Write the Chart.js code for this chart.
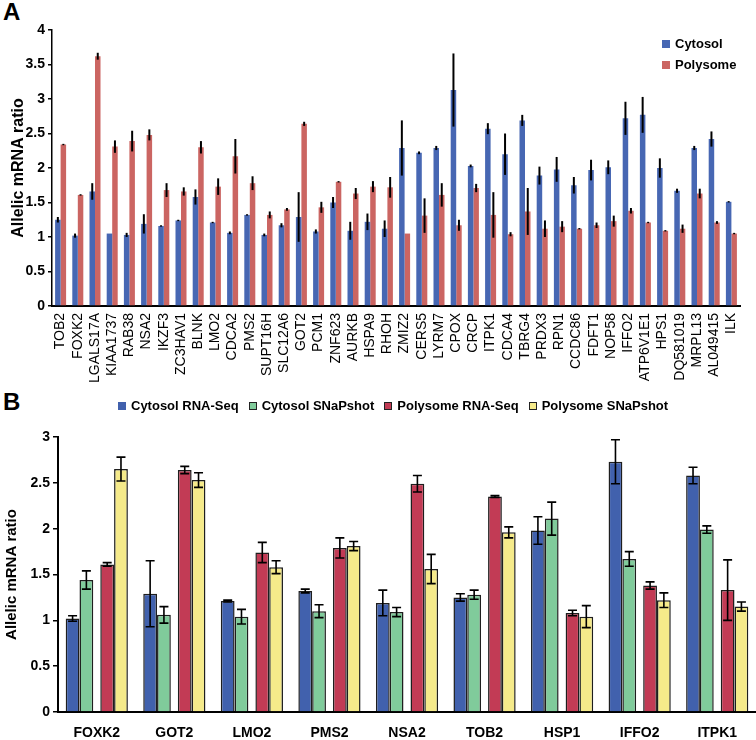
<!DOCTYPE html>
<html>
<head>
<meta charset="utf-8">
<script src="https://cdn.jsdelivr.net/npm/chart.js@4.4.1/dist/chart.umd.min.js"></script>
<style>
  html, body { margin: 0; padding: 0; background: #fff; }
  body { width: 756px; height: 740px; position: relative; overflow: hidden; font-family: "Liberation Sans", Arial, sans-serif; color: #000; }
  .letter { position: absolute; left: 3px; font-weight: bold; font-size: 24px; line-height: 1; }
  #wrapA { position: absolute; left: 0; top: 0; }
  #wrapB { position: absolute; left: 0; top: 385px; }
  .leg { position: absolute; font-weight: bold; font-size: 13px; line-height: 16px; display: flex; align-items: center; white-space: nowrap; }
  .leg i { display: inline-block; width: 8px; height: 8px; margin-right: 5px; box-sizing: border-box; }
  #legB { left: 118px; top: 398px; }
  #legB span { display: flex; align-items: center; margin-right: 10px; }
</style>
</head>
<body>
<div class="letter" style="top:0px">A</div>
<div class="letter" style="top:390px">B</div>
<div id="wrapA"><canvas id="chartA" width="756" height="390"></canvas></div>
<div id="wrapB"><canvas id="chartB" width="756" height="355"></canvas></div>
<div class="leg" style="left:662px; top:36px"><i style="background:#4767B3"></i>Cytosol</div>
<div class="leg" style="left:662px; top:57px"><i style="background:#CB6562"></i>Polysome</div>
<div class="leg" id="legB">
  <span><i style="background:#4161AD"></i>Cytosol RNA-Seq</span>
  <span><i style="background:#80CB9B; border:1px solid #222"></i>Cytosol SNaPshot</span>
  <span><i style="background:#C23B55; border:1px solid #222"></i>Polysome RNA-Seq</span>
  <span><i style="background:#F5EA8A; border:1px solid #222"></i>Polysome SNaPshot</span>
</div>
<script>
// panel A
const genesA = ["TOB2", "FOXK2", "LGALS17A", "KIAA1737", "RAB38", "NSA2", "IKZF3", "ZC3HAV1", "BLNK", "LMO2",
    "CDCA2", "PMS2", "SUPT16H", "SLC12A6", "GOT2", "PCM1", "ZNF623", "AURKB", "HSPA9", "RHOH",
    "ZMIZ2", "CERS5", "LYRM7", "CPOX", "CRCP", "ITPK1", "CDCA4", "TBRG4", "PRDX3", "RPN1",
    "CCDC86", "FDFT1", "NOP58", "IFFO2", "ATP6V1E1", "HPS1", "DQ581019", "MRPL13", "AL049415", "ILK"];
const cytosolA = [1.25, 1.02, 1.66, 1.05, 1.03, 1.19, 1.16, 1.24, 1.58, 1.21,
    1.06, 1.32, 1.03, 1.17, 1.29, 1.08, 1.50, 1.09, 1.22, 1.12,
    2.29, 2.22, 2.29, 3.13, 2.03, 2.57, 2.20, 2.69, 1.89, 1.98,
    1.75, 1.97, 2.01, 2.72, 2.77, 2.00, 1.67, 2.29, 2.42, 1.51];
const cytosolErrA = [0.04, 0.03, 0.12, 0, 0.03, 0.14, 0.01, 0.01, 0.11, 0.01,
    0.02, 0.01, 0.02, 0.03, 0.36, 0.03, 0.08, 0.13, 0.12, 0.12,
    0.40, 0.02, 0.03, 0.53, 0.02, 0.08, 0.30, 0.08, 0.13, 0.18,
    0.12, 0.15, 0.10, 0.24, 0.26, 0.14, 0.03, 0.03, 0.11, 0.01];
const polysomeA = [2.34, 1.61, 3.62, 2.31, 2.39, 2.48, 1.68, 1.66, 2.30, 1.73,
    2.17, 1.78, 1.32, 1.40, 2.64, 1.43, 1.80, 1.63, 1.73, 1.72,
    1.05, 1.31, 1.61, 1.17, 1.71, 1.32, 1.04, 1.37, 1.12, 1.15,
    1.12, 1.17, 1.23, 1.38, 1.21, 1.09, 1.12, 1.63, 1.21, 1.05];
const polysomeErrA = [0.01, 0.01, 0.05, 0.09, 0.15, 0.08, 0.10, 0.06, 0.09, 0.12,
    0.25, 0.10, 0.05, 0.02, 0.03, 0.08, 0.01, 0.08, 0.08, 0.15,
    0, 0.25, 0.17, 0.08, 0.06, 0.33, 0.03, 0.34, 0.12, 0.08,
    0.01, 0.04, 0.08, 0.04, 0.01, 0.01, 0.06, 0.07, 0.02, 0.01];
const ticksA = [0, 0.5, 1, 1.5, 2, 2.5, 3, 3.5, 4];

// panel B
const genesB = ["FOXK2", "GOT2", "LMO2", "PMS2", "NSA2", "TOB2", "HSP1", "IFFO2", "ITPK1"];
const cytSeqB = [1.02, 1.29, 1.21, 1.32, 1.19, 1.25, 1.98, 2.73, 2.58];
const cytSeqErrB = [0.03, 0.36, 0.01, 0.02, 0.14, 0.04, 0.15, 0.24, 0.09];
const cytSnapB = [1.44, 1.06, 1.04, 1.10, 1.09, 1.28, 2.11, 1.67, 1.99];
const cytSnapErrB = [0.10, 0.09, 0.08, 0.07, 0.05, 0.05, 0.18, 0.08, 0.04];
const polySeqB = [1.61, 2.64, 1.74, 1.79, 2.49, 2.35, 1.08, 1.38, 1.33];
const polySeqErrB = [0.02, 0.04, 0.11, 0.11, 0.09, 0.01, 0.03, 0.04, 0.33];
const polySnapB = [2.65, 2.53, 1.58, 1.81, 1.56, 1.96, 1.04, 1.22, 1.15];
const polySnapErrB = [0.13, 0.08, 0.07, 0.05, 0.16, 0.06, 0.12, 0.08, 0.05];
const ticksB = [0, 0.5, 1, 1.5, 2, 2.5, 3];

const FONT = "'Liberation Sans', Arial, sans-serif";
Chart.defaults.font.family = FONT;
Chart.defaults.color = "#000";

// error bars drawn from the y scale
const errorBars = {
    id: "errorBars",
    afterDatasetsDraw(chart, args, opts) {
        const ctx = chart.ctx;
        const y = chart.scales.y;
        chart.data.datasets.forEach((ds, i) => {
            if (!ds.errors) return;
            chart.getDatasetMeta(i).data.forEach((bar, j) => {
                const v = ds.data[j], e = ds.errors[j];
                if (v == null || !e) return;
                const top = y.getPixelForValue(v + e);
                const bot = y.getPixelForValue(v - e);
                ctx.save();
                ctx.strokeStyle = "#000";
                ctx.lineWidth = opts.width;
                ctx.beginPath();
                ctx.moveTo(bar.x, top);
                ctx.lineTo(bar.x, bot);
                if (opts.cap) {
                    ctx.moveTo(bar.x - opts.cap, top);
                    ctx.lineTo(bar.x + opts.cap, top);
                    ctx.moveTo(bar.x - opts.cap, bot);
                    ctx.lineTo(bar.x + opts.cap, bot);
                }
                ctx.stroke();
                ctx.restore();
            });
        });
    }
};

new Chart(document.getElementById("chartA"), {
    type: "bar",
    plugins: [errorBars],
    data: {
        labels: genesA,
        datasets: [{
            label: "Cytosol",
            data: cytosolA,
            errors: cytosolErrA,
            backgroundColor: "#4767B3",
            categoryPercentage: 0.64,
            barPercentage: 1
        }, {
            label: "Polysome",
            data: polysomeA,
            errors: polysomeErrA,
            backgroundColor: "#CB6562",
            categoryPercentage: 0.64,
            barPercentage: 1
        }]
    },
    options: {
        responsive: false,
        animation: false,
        layout: { padding: { top: 30, right: 16, left: 0, bottom: 0 } },
        plugins: {
            legend: { display: false },
            tooltip: { enabled: false },
            errorBars: { width: 2, cap: 0 }
        },
        scales: {
            x: {
                grid: { display: false, drawTicks: false },
                border: { color: "#000", width: 2 },
                ticks: { font: { size: 14 }, minRotation: 90, maxRotation: 90, autoSkip: false, padding: 7 },
                afterFit: s => { s.height = 84; }
            },
            y: {
                min: 0,
                max: 4,
                afterBuildTicks: s => { s.ticks = ticksA.map(v => ({ value: v })); },
                ticks: { font: { size: 14, weight: "bold" }, padding: 3, callback: v => String(v) },
                grid: { drawOnChartArea: false, color: "#000", tickLength: 4, lineWidth: 1.5 },
                border: { color: "#000", width: 1.5 },
                title: { display: true, text: "Allelic mRNA ratio", font: { size: 16, weight: "bold" }, padding: { top: 9, bottom: 0 } },
                afterFit: s => { s.width = 52; }
            }
        }
    }
});

const outer = { categoryPercentage: 0.832, barPercentage: 0.855 };
const inner = { categoryPercentage: 1.073, barPercentage: 0.663 };

new Chart(document.getElementById("chartB"), {
    type: "bar",
    plugins: [errorBars],
    data: {
        labels: genesB,
        datasets: [
            { label: "Cytosol RNA-Seq", data: cytSeqB, errors: cytSeqErrB, backgroundColor: "#4161AD", ...outer },
            { label: "Cytosol SNaPshot", data: cytSnapB, errors: cytSnapErrB, backgroundColor: "#80CB9B", ...inner },
            { label: "Polysome RNA-Seq", data: polySeqB, errors: polySeqErrB, backgroundColor: "#C23B55", ...inner },
            { label: "Polysome SNaPshot", data: polySnapB, errors: polySnapErrB, backgroundColor: "#F5EA8A", ...outer }
        ].map(d => Object.assign(d, { borderColor: "#1e1e1e", borderWidth: 1.5 }))
    },
    options: {
        responsive: false,
        animation: false,
        layout: { padding: { top: 52, right: 0, left: 0, bottom: 0 } },
        plugins: {
            legend: { display: false },
            tooltip: { enabled: false },
            errorBars: { width: 1.6, cap: 4.5 }
        },
        scales: {
            x: {
                grid: { display: false, drawTicks: false },
                border: { color: "#000", width: 2 },
                ticks: { font: { size: 14, weight: "bold" }, padding: 13 },
                afterFit: s => { s.height = 28; }
            },
            y: {
                min: 0,
                max: 3,
                afterBuildTicks: s => { s.ticks = ticksB.map(v => ({ value: v })); },
                ticks: { font: { size: 14, weight: "bold" }, padding: 3, callback: v => String(v) },
                grid: { drawOnChartArea: false, color: "#000", tickLength: 5, lineWidth: 1.5 },
                border: { color: "#000", width: 2 },
                title: { display: true, text: "Allelic mRNA ratio", font: { size: 15, weight: "bold" }, padding: { top: 3, bottom: 0 } },
                afterFit: s => { s.width = 58; }
            }
        }
    }
});
</script>
</body>
</html>
